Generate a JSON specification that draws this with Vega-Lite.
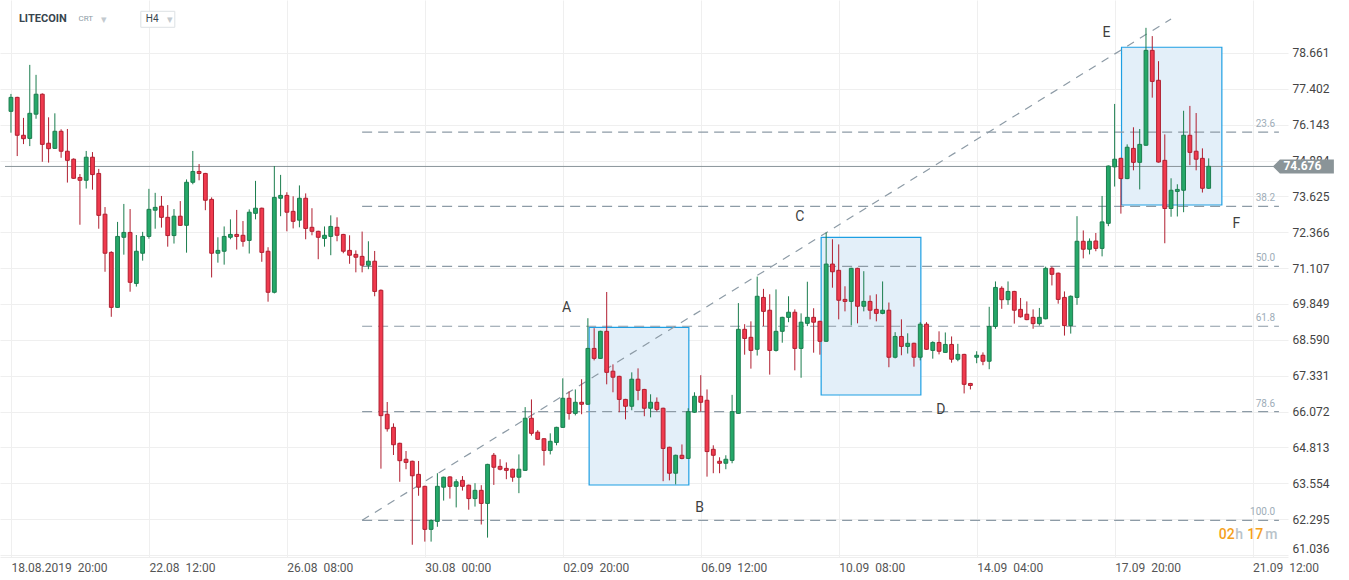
{
"$schema":"https://vega.github.io/schema/vega-lite/v6.json",
"width":1288,"height":557,
"autosize":{"type":"none"},
"padding":{"left":0,"top":0,"right":61,"bottom":23},
"background":"#ffffff",
"config":{"font":"Roboto","view":{"stroke":null},"axis":{"title":null}},
"datasets":{
"candles":[
{"i":0,"o":76.61,"h":77.22,"l":75.86,"c":77.10},{"i":1,"o":77.10,"h":77.12,"l":75.04,"c":75.77},{"i":2,"o":75.77,"h":76.38,"l":75.46,"c":75.65},{"i":3,"o":75.66,"h":78.24,"l":75.39,"c":76.54},{"i":4,"o":76.51,"h":77.89,"l":76.35,"c":77.21},{"i":5,"o":77.21,"h":77.24,"l":74.84,"c":75.45},{"i":6,"o":75.49,"h":76.40,"l":74.81,"c":75.30},{"i":7,"o":75.31,"h":76.54,"l":75.29,"c":75.91},{"i":8,"o":75.91,"h":75.98,"l":74.98,"c":75.21},{"i":9,"o":75.21,"h":75.99,"l":74.11,"c":74.89},
{"i":10,"o":74.93,"h":74.96,"l":74.24,"c":74.26},{"i":11,"o":74.29,"h":74.41,"l":72.63,"c":74.19},{"i":12,"o":74.19,"h":75.22,"l":73.90,"c":75.00},{"i":13,"o":75.00,"h":75.18,"l":73.86,"c":74.39},{"i":14,"o":74.43,"h":74.59,"l":72.49,"c":72.96},{"i":15,"o":73.00,"h":73.25,"l":70.98,"c":71.63},{"i":16,"o":71.66,"h":71.70,"l":69.40,"c":69.73},{"i":17,"o":69.73,"h":72.73,"l":69.71,"c":72.22},{"i":18,"o":72.19,"h":73.36,"l":71.58,"c":72.36},{"i":19,"o":72.36,"h":73.18,"l":70.28,"c":70.61},
{"i":20,"o":70.57,"h":72.27,"l":70.46,"c":71.70},{"i":21,"o":71.63,"h":72.38,"l":71.37,"c":72.22},{"i":22,"o":72.22,"h":73.89,"l":72.14,"c":73.17},{"i":23,"o":73.14,"h":73.75,"l":72.49,"c":73.24},{"i":24,"o":73.28,"h":73.64,"l":72.53,"c":72.89},{"i":25,"o":72.89,"h":73.32,"l":71.86,"c":72.25},{"i":26,"o":72.25,"h":73.18,"l":71.97,"c":72.93},{"i":27,"o":72.93,"h":73.46,"l":72.59,"c":72.61},{"i":28,"o":72.61,"h":74.22,"l":71.65,"c":74.12},{"i":29,"o":74.12,"h":75.22,"l":74.05,"c":74.50},
{"i":30,"o":74.50,"h":74.76,"l":74.19,"c":74.43},{"i":31,"o":74.43,"h":74.45,"l":73.14,"c":73.49},{"i":32,"o":73.52,"h":73.59,"l":70.78,"c":71.63},{"i":33,"o":71.63,"h":72.19,"l":71.30,"c":71.73},{"i":34,"o":71.70,"h":72.57,"l":71.23,"c":72.22},{"i":35,"o":72.19,"h":72.82,"l":72.12,"c":72.29},{"i":36,"o":72.29,"h":73.15,"l":71.76,"c":72.22},{"i":37,"o":72.26,"h":72.76,"l":71.86,"c":72.05},{"i":38,"o":72.08,"h":73.17,"l":71.62,"c":73.07},{"i":39,"o":73.03,"h":74.17,"l":72.82,"c":73.21},
{"i":40,"o":73.21,"h":73.23,"l":71.33,"c":71.66},{"i":41,"o":71.70,"h":71.84,"l":69.93,"c":70.26},{"i":42,"o":70.26,"h":74.69,"l":70.22,"c":73.59},{"i":43,"o":73.56,"h":74.38,"l":72.93,"c":73.66},{"i":44,"o":73.66,"h":73.77,"l":72.40,"c":73.07},{"i":45,"o":73.10,"h":73.63,"l":72.50,"c":72.75},{"i":46,"o":72.79,"h":74.01,"l":72.54,"c":73.56},{"i":47,"o":73.56,"h":73.73,"l":72.12,"c":72.50},{"i":48,"o":72.54,"h":73.21,"l":72.26,"c":72.40},{"i":49,"o":72.40,"h":72.42,"l":71.42,"c":72.19},
{"i":50,"o":72.15,"h":72.57,"l":71.86,"c":72.26},{"i":51,"o":72.22,"h":72.96,"l":71.56,"c":72.57},{"i":52,"o":72.54,"h":72.89,"l":72.05,"c":72.26},{"i":53,"o":72.29,"h":72.31,"l":71.63,"c":71.70},{"i":54,"o":71.73,"h":72.26,"l":71.26,"c":71.56},{"i":55,"o":71.59,"h":71.73,"l":70.96,"c":71.49},{"i":56,"o":71.52,"h":72.39,"l":70.96,"c":71.21},{"i":57,"o":71.21,"h":72.05,"l":71.07,"c":71.35},{"i":58,"o":71.35,"h":71.71,"l":70.12,"c":70.29},{"i":59,"o":70.33,"h":70.36,"l":64.07,"c":65.93},
{"i":60,"o":65.98,"h":66.41,"l":65.37,"c":65.47},{"i":61,"o":65.52,"h":65.66,"l":64.55,"c":64.91},{"i":62,"o":64.96,"h":64.98,"l":63.61,"c":64.35},{"i":63,"o":64.40,"h":64.69,"l":64.05,"c":64.29},{"i":64,"o":64.33,"h":64.35,"l":61.40,"c":63.82},{"i":65,"o":63.87,"h":64.34,"l":63.12,"c":63.42},{"i":66,"o":63.45,"h":63.47,"l":61.51,"c":61.94},{"i":67,"o":61.94,"h":62.29,"l":61.51,"c":62.25},{"i":68,"o":62.22,"h":63.91,"l":62.03,"c":63.45},{"i":69,"o":63.42,"h":63.79,"l":62.95,"c":63.77},
{"i":70,"o":63.78,"h":63.80,"l":63.02,"c":63.45},{"i":71,"o":63.45,"h":63.70,"l":62.71,"c":63.61},{"i":72,"o":63.66,"h":63.81,"l":63.30,"c":63.45},{"i":73,"o":63.49,"h":63.51,"l":62.63,"c":63.02},{"i":74,"o":63.02,"h":63.56,"l":62.74,"c":63.31},{"i":75,"o":63.31,"h":63.49,"l":62.11,"c":62.85},{"i":76,"o":62.85,"h":64.24,"l":61.65,"c":64.22},{"i":77,"o":64.54,"h":64.62,"l":63.50,"c":64.12},{"i":78,"o":64.15,"h":64.40,"l":64.01,"c":64.05},{"i":79,"o":64.08,"h":64.29,"l":63.70,"c":64.01},
{"i":80,"o":64.05,"h":64.07,"l":63.61,"c":63.77},{"i":81,"o":63.77,"h":64.57,"l":63.21,"c":64.05},{"i":82,"o":64.01,"h":66.23,"l":63.99,"c":65.84},{"i":83,"o":65.84,"h":66.50,"l":65.23,"c":65.31},{"i":84,"o":65.35,"h":65.42,"l":65.08,"c":65.10},{"i":85,"o":65.12,"h":65.14,"l":64.18,"c":64.71},{"i":86,"o":64.71,"h":65.31,"l":64.57,"c":65.03},{"i":87,"o":64.99,"h":65.54,"l":64.89,"c":65.52},{"i":88,"o":65.52,"h":67.24,"l":65.50,"c":66.54},{"i":89,"o":66.54,"h":66.78,"l":65.79,"c":66.01},
{"i":90,"o":66.01,"h":66.85,"l":65.94,"c":66.40},{"i":91,"o":66.40,"h":67.21,"l":65.98,"c":66.33},{"i":92,"o":66.33,"h":69.35,"l":66.31,"c":68.29},{"i":93,"o":68.29,"h":69.00,"l":67.87,"c":67.94},{"i":94,"o":67.94,"h":68.91,"l":67.92,"c":68.89},{"i":95,"o":68.89,"h":70.27,"l":67.03,"c":67.45},{"i":96,"o":67.49,"h":67.73,"l":66.75,"c":67.28},{"i":97,"o":67.31,"h":67.33,"l":66.05,"c":66.50},{"i":98,"o":66.50,"h":66.52,"l":65.80,"c":66.26},{"i":99,"o":66.26,"h":67.45,"l":66.12,"c":67.21},
{"i":100,"o":67.21,"h":67.59,"l":66.47,"c":66.82},{"i":101,"o":66.85,"h":66.87,"l":65.91,"c":66.19},{"i":102,"o":66.19,"h":66.68,"l":65.87,"c":66.40},{"i":103,"o":66.40,"h":66.57,"l":66.08,"c":66.15},{"i":104,"o":66.19,"h":66.21,"l":63.63,"c":64.78},{"i":105,"o":64.82,"h":64.84,"l":63.66,"c":63.91},{"i":106,"o":63.91,"h":64.56,"l":63.52,"c":64.54},{"i":107,"o":64.54,"h":64.92,"l":64.40,"c":64.43},{"i":108,"o":64.43,"h":66.19,"l":64.41,"c":66.07},{"i":109,"o":66.05,"h":66.75,"l":66.03,"c":66.61},
{"i":110,"o":66.61,"h":67.35,"l":66.08,"c":66.40},{"i":111,"o":66.47,"h":66.85,"l":63.79,"c":64.67},{"i":112,"o":64.75,"h":64.89,"l":63.91,"c":64.54},{"i":113,"o":64.33,"h":64.47,"l":63.91,"c":64.26},{"i":114,"o":64.26,"h":64.54,"l":64.05,"c":64.40},{"i":115,"o":64.36,"h":66.66,"l":64.26,"c":66.07},{"i":116,"o":66.01,"h":69.88,"l":65.99,"c":68.96},{"i":117,"o":68.96,"h":69.14,"l":68.07,"c":68.64},{"i":118,"o":68.68,"h":69.24,"l":67.58,"c":68.22},{"i":119,"o":68.26,"h":70.81,"l":68.04,"c":70.12},
{"i":120,"o":70.08,"h":70.38,"l":69.07,"c":69.59},{"i":121,"o":69.63,"h":70.19,"l":67.37,"c":68.22},{"i":122,"o":68.22,"h":70.36,"l":68.18,"c":68.89},{"i":123,"o":68.89,"h":69.40,"l":68.49,"c":69.38},{"i":124,"o":69.38,"h":70.12,"l":69.21,"c":69.56},{"i":125,"o":69.56,"h":69.66,"l":67.52,"c":68.29},{"i":126,"o":68.29,"h":69.52,"l":67.26,"c":69.21},{"i":127,"o":69.17,"h":70.63,"l":69.07,"c":69.38},{"i":128,"o":69.38,"h":69.70,"l":68.14,"c":69.21},{"i":129,"o":69.24,"h":69.26,"l":68.07,"c":68.54},
{"i":130,"o":68.54,"h":72.36,"l":68.52,"c":71.25},{"i":131,"o":71.25,"h":72.12,"l":70.42,"c":70.98},{"i":132,"o":71.03,"h":71.94,"l":69.31,"c":69.98},{"i":133,"o":70.01,"h":70.47,"l":69.59,"c":69.94},{"i":134,"o":69.94,"h":71.12,"l":69.10,"c":71.10},{"i":135,"o":71.10,"h":71.12,"l":69.17,"c":69.77},{"i":136,"o":69.77,"h":71.00,"l":69.59,"c":69.94},{"i":137,"o":69.94,"h":70.15,"l":69.31,"c":69.63},{"i":138,"o":69.66,"h":70.19,"l":69.24,"c":69.52},{"i":139,"o":69.52,"h":70.64,"l":69.49,"c":69.63},
{"i":140,"o":69.63,"h":69.90,"l":67.63,"c":67.98},{"i":141,"o":67.98,"h":68.86,"l":67.94,"c":68.71},{"i":142,"o":68.71,"h":69.31,"l":68.05,"c":68.36},{"i":143,"o":68.36,"h":68.82,"l":68.11,"c":68.47},{"i":144,"o":68.47,"h":68.49,"l":67.65,"c":67.98},{"i":145,"o":67.98,"h":69.21,"l":67.87,"c":69.14},{"i":146,"o":69.14,"h":69.21,"l":68.24,"c":68.26},{"i":147,"o":68.22,"h":68.54,"l":67.93,"c":68.50},{"i":148,"o":68.50,"h":68.89,"l":68.08,"c":68.19},{"i":149,"o":68.15,"h":68.85,"l":68.13,"c":68.43},
{"i":150,"o":68.43,"h":68.71,"l":67.79,"c":67.91},{"i":151,"o":67.91,"h":68.45,"l":67.84,"c":68.08},{"i":152,"o":68.08,"h":68.10,"l":66.71,"c":67.03},{"i":153,"o":67.06,"h":67.08,"l":66.85,"c":66.99},{"i":154,"o":67.98,"h":68.19,"l":67.77,"c":68.05},{"i":155,"o":68.05,"h":68.15,"l":67.70,"c":67.84},{"i":156,"o":67.84,"h":69.75,"l":67.56,"c":69.06},{"i":157,"o":69.06,"h":70.64,"l":68.98,"c":70.43},{"i":158,"o":70.40,"h":70.47,"l":69.68,"c":70.00},{"i":159,"o":70.00,"h":70.64,"l":69.82,"c":70.29},
{"i":160,"o":70.29,"h":70.31,"l":69.16,"c":69.63},{"i":161,"o":69.66,"h":70.06,"l":69.37,"c":69.40},{"i":162,"o":69.49,"h":69.94,"l":69.28,"c":69.30},{"i":163,"o":69.38,"h":69.66,"l":68.98,"c":69.16},{"i":164,"o":69.16,"h":69.71,"l":69.09,"c":69.38},{"i":165,"o":69.33,"h":71.16,"l":69.31,"c":71.10},{"i":166,"o":71.10,"h":71.16,"l":70.50,"c":70.89},{"i":167,"o":70.93,"h":70.95,"l":69.86,"c":70.01},{"i":168,"o":70.08,"h":70.29,"l":68.74,"c":69.09},{"i":169,"o":69.09,"h":70.15,"l":68.81,"c":70.12},
{"i":170,"o":70.08,"h":72.93,"l":69.82,"c":72.05},{"i":171,"o":72.05,"h":72.43,"l":71.45,"c":71.77},{"i":172,"o":71.77,"h":72.15,"l":71.59,"c":72.05},{"i":173,"o":72.06,"h":72.34,"l":71.70,"c":71.80},{"i":174,"o":71.80,"h":73.64,"l":71.52,"c":72.73},{"i":175,"o":72.68,"h":74.71,"l":72.58,"c":74.69},{"i":176,"o":74.66,"h":76.87,"l":73.97,"c":74.93},{"i":177,"o":74.96,"h":74.98,"l":73.02,"c":74.25},{"i":178,"o":74.25,"h":75.45,"l":74.23,"c":75.35},{"i":179,"o":75.31,"h":76.05,"l":74.54,"c":74.82},
{"i":180,"o":74.82,"h":75.99,"l":73.87,"c":75.45},{"i":181,"o":75.42,"h":79.54,"l":75.40,"c":78.75},{"i":182,"o":78.75,"h":79.25,"l":77.09,"c":77.66},{"i":183,"o":77.70,"h":78.37,"l":74.81,"c":74.83},{"i":184,"o":74.89,"h":75.80,"l":71.98,"c":73.20},{"i":185,"o":73.20,"h":74.26,"l":72.91,"c":73.84},{"i":186,"o":73.80,"h":74.05,"l":72.92,"c":73.87},{"i":187,"o":73.84,"h":76.63,"l":73.07,"c":75.77},{"i":188,"o":75.77,"h":76.80,"l":74.72,"c":75.17},{"i":189,"o":75.21,"h":76.55,"l":74.54,"c":74.93},
{"i":190,"o":74.96,"h":75.31,"l":73.76,"c":73.91},{"i":191,"o":73.91,"h":74.96,"l":73.89,"c":74.68}
],
"boxes":[{"i0":92.2,"i1":108.1,"v0":63.497,"v1":69.031},{"i0":129.2,"i1":145.1,"v0":66.655,"v1":72.19},{"i0":177.1,"i1":193.1,"v0":73.323,"v1":78.858}],
"fib":[{"lvl":"23.6","v":75.879,"i0":56,"i1":202.2},{"lvl":"38.2","v":73.276,"i0":56,"i1":202.2},{"lvl":"50.0","v":71.172,"i0":56,"i1":202.2},{"lvl":"61.8","v":69.068,"i0":56,"i1":202.2},{"lvl":"78.6","v":66.073,"i0":56,"i1":202.2},{"lvl":"100.0","v":62.258,"i0":56,"i1":202.2}],
"trend":[{"i0":56,"v0":62.258,"i1":185,"v1":79.85}],
"price":[{"v":74.676,"i0":-0.95,"i1":201.4,"tag":206.1,"t":"74.676"}],
"letters":[{"t":"A","i":88.6,"v":69.70},{"t":"B","i":109.8,"v":62.69},{"t":"C","i":125.8,"v":72.90},{"t":"D","i":148.3,"v":66.13},{"t":"E","i":174.7,"v":79.35},{"t":"F","i":195.4,"v":72.66}],
"title":[{"t":"LITECOIN","i":1.27,"v":79.84}],
"sub":[{"t":"CRT","i":10.76,"v":79.84}],
"carets":[{"t":"▾","i":14.4,"v":79.82},{"t":"▾","i":24.84,"v":79.82}],
"tf":[{"t":"H4","i":21.5,"v":79.84,"bx":23.42}],
"timerNum":[{"t":"02","i":192.6,"v":61.74},{"t":"17","i":197.15,"v":61.74}],
"timerUnit":[{"t":"h","i":195.25,"v":61.74},{"t":"m","i":200.0,"v":61.74}]
},
"layer":[
{"data":{"name":"boxes"},"mark":{"type":"rect","fill":"#e3eff9","stroke":"#1e9fe3","strokeWidth":1.2},
"encoding":{
"x":{"field":"i0","type":"quantitative","scale":{"domain":[-0.95,202.85],"nice":false,"zero":false},
"axis":{"values":[0,22,44,66,88,110,132,154,176,198],"tickCount":40,"labelExpr":"['18.08.2019\u00a0\u00a020:00','22.08\u00a0\u00a012:00','26.08\u00a0\u00a008:00','30.08\u00a0\u00a000:00','02.09\u00a0\u00a020:00','06.09\u00a0\u00a012:00','10.09\u00a0\u00a008:00','14.09\u00a0\u00a004:00','17.09\u00a0\u00a020:00','21.09\u00a0\u00a012:00'][round(datum.value/22)]","grid":true,"gridColor":"#efefef","gridWidth":1,"domain":true,"domainColor":"#eeeeee","ticks":false,"labelAlign":"left","labelPadding":5,"labelFontSize":12,"labelColor":"#555555","labelFlush":false,"labelOverlap":false,"title":null}},
"x2":{"field":"i1"},
"y":{"field":"v0","type":"quantitative","scale":{"domain":[60.97,80.517],"nice":false,"zero":false},
"axis":{"orient":"right","values":[61.036,62.295,63.554,64.813,66.072,67.331,68.590,69.849,71.107,72.366,73.625,74.884,76.143,77.402,78.661],"tickCount":40,"format":".3f","grid":true,"gridColor":"#efefef","gridWidth":1,"domain":false,"ticks":false,"labelPadding":4,"labelFontSize":12,"labelColor":"#444444","labelFlush":5,"labelOverlap":false,"title":null}},
"y2":{"field":"v1"}}},
{"data":{"name":"fib"},"mark":{"type":"rule","color":"#8d9ba6","strokeWidth":1.2,"strokeDash":[10,6]},
"encoding":{"x":{"field":"i0","type":"quantitative","scale":{"domain":[-0.95,202.85],"nice":false,"zero":false}},"x2":{"field":"i1"},
"y":{"field":"v","type":"quantitative","scale":{"domain":[60.97,80.517],"nice":false,"zero":false}}}},
{"data":{"name":"trend"},"mark":{"type":"rule","color":"#8d9ba6","strokeWidth":1.2,"strokeDash":[8,7]},
"encoding":{"x":{"field":"i0","type":"quantitative","scale":{"domain":[-0.95,202.85],"nice":false,"zero":false}},"x2":{"field":"i1"},
"y":{"field":"v0","type":"quantitative","scale":{"domain":[60.97,80.517],"nice":false,"zero":false}},"y2":{"field":"v1"}}},
{"data":{"name":"price"},"mark":{"type":"rule","color":"#8a9499","strokeWidth":1},
"encoding":{"x":{"field":"i0","type":"quantitative","scale":{"domain":[-0.95,202.85],"nice":false,"zero":false}},"x2":{"field":"i1"},
"y":{"field":"v","type":"quantitative","scale":{"domain":[60.97,80.517],"nice":false,"zero":false}}}},
{"data":{"name":"candles"},"mark":{"type":"rule","strokeWidth":1},
"encoding":{"x":{"field":"i","type":"quantitative","scale":{"domain":[-0.95,202.85],"nice":false,"zero":false}},
"y":{"field":"l","type":"quantitative","scale":{"domain":[60.97,80.517],"nice":false,"zero":false}},"y2":{"field":"h"},
"color":{"condition":{"test":"datum.c >= datum.o","value":"#1b7d4e"},"value":"#b01f30"}}},
{"data":{"name":"candles"},"mark":{"type":"bar","width":3.8,"strokeWidth":1},
"encoding":{"x":{"field":"i","type":"quantitative","scale":{"domain":[-0.95,202.85],"nice":false,"zero":false}},
"y":{"field":"o","type":"quantitative","scale":{"domain":[60.97,80.517],"nice":false,"zero":false}},"y2":{"field":"c"},
"fill":{"condition":{"test":"datum.c >= datum.o","value":"#25a869"},"value":"#f03a4e"},
"stroke":{"condition":{"test":"datum.c >= datum.o","value":"#1b7d4e"},"value":"#b01f30"}}},
{"data":{"name":"letters"},"mark":{"type":"text","fontSize":14,"color":"#3f3f3f","align":"center","baseline":"middle"},
"encoding":{"x":{"field":"i","type":"quantitative","scale":{"domain":[-0.95,202.85],"nice":false,"zero":false}},
"y":{"field":"v","type":"quantitative","scale":{"domain":[60.97,80.517],"nice":false,"zero":false}},"text":{"field":"t"}}},
{"data":{"name":"fib"},"mark":{"type":"text","fontSize":10,"color":"#9eadb8","align":"right","baseline":"middle","dy":-8},
"encoding":{"x":{"datum":201.6,"type":"quantitative","scale":{"domain":[-0.95,202.85],"nice":false,"zero":false}},
"y":{"field":"v","type":"quantitative","scale":{"domain":[60.97,80.517],"nice":false,"zero":false}},"text":{"field":"lvl"}}},
{"data":{"name":"price"},"mark":{"type":"point","shape":"M -1 0 L -0.77 -0.23 L 1 -0.23 L 1 0.23 L -0.77 0.23 Z","size":3721,"filled":true,"fill":"#8a9498","opacity":1,"strokeWidth":0},
"encoding":{"x":{"field":"tag","type":"quantitative","scale":{"domain":[-0.95,202.85],"nice":false,"zero":false}},
"y":{"field":"v","type":"quantitative","scale":{"domain":[60.97,80.517],"nice":false,"zero":false}}}},
{"data":{"name":"price"},"mark":{"type":"text","fontSize":12,"fontWeight":"bold","color":"#ffffff","align":"center","baseline":"middle","dx":-1},
"encoding":{"x":{"field":"tag","type":"quantitative","scale":{"domain":[-0.95,202.85],"nice":false,"zero":false}},
"y":{"field":"v","type":"quantitative","scale":{"domain":[60.97,80.517],"nice":false,"zero":false}},"text":{"field":"t"}}},
{"data":{"name":"tf"},"mark":{"type":"point","shape":"M -1 -0.47 L 1 -0.47 L 1 0.47 L -1 0.47 Z","size":1156,"filled":true,"fill":"#ffffff","stroke":"#dde1e4","strokeWidth":1,"opacity":1},
"encoding":{"x":{"field":"bx","type":"quantitative","scale":{"domain":[-0.95,202.85],"nice":false,"zero":false}},
"y":{"field":"v","type":"quantitative","scale":{"domain":[60.97,80.517],"nice":false,"zero":false}}}},
{"data":{"name":"tf"},"mark":{"type":"text","fontSize":10,"color":"#3a4750","align":"left","baseline":"middle"},
"encoding":{"x":{"field":"i","type":"quantitative","scale":{"domain":[-0.95,202.85],"nice":false,"zero":false}},
"y":{"field":"v","type":"quantitative","scale":{"domain":[60.97,80.517],"nice":false,"zero":false}},"text":{"field":"t"}}},
{"data":{"name":"title"},"mark":{"type":"text","fontSize":11,"fontWeight":"bold","color":"#37454e","align":"left","baseline":"middle"},
"encoding":{"x":{"field":"i","type":"quantitative","scale":{"domain":[-0.95,202.85],"nice":false,"zero":false}},
"y":{"field":"v","type":"quantitative","scale":{"domain":[60.97,80.517],"nice":false,"zero":false}},"text":{"field":"t"}}},
{"data":{"name":"sub"},"mark":{"type":"text","fontSize":8,"color":"#8d9ca6","align":"left","baseline":"middle"},
"encoding":{"x":{"field":"i","type":"quantitative","scale":{"domain":[-0.95,202.85],"nice":false,"zero":false}},
"y":{"field":"v","type":"quantitative","scale":{"domain":[60.97,80.517],"nice":false,"zero":false}},"text":{"field":"t"}}},
{"data":{"name":"carets"},"mark":{"type":"text","fontSize":11,"color":"#c3cacf","align":"left","baseline":"middle"},
"encoding":{"x":{"field":"i","type":"quantitative","scale":{"domain":[-0.95,202.85],"nice":false,"zero":false}},
"y":{"field":"v","type":"quantitative","scale":{"domain":[60.97,80.517],"nice":false,"zero":false}},"text":{"field":"t"}}},
{"data":{"name":"timerNum"},"mark":{"type":"text","fontSize":14,"fontWeight":500,"color":"#f5a11c","align":"left","baseline":"middle"},
"encoding":{"x":{"field":"i","type":"quantitative","scale":{"domain":[-0.95,202.85],"nice":false,"zero":false}},
"y":{"field":"v","type":"quantitative","scale":{"domain":[60.97,80.517],"nice":false,"zero":false}},"text":{"field":"t"}}},
{"data":{"name":"timerUnit"},"mark":{"type":"text","fontSize":14,"fontWeight":500,"color":"#b9c3c9","align":"left","baseline":"middle"},
"encoding":{"x":{"field":"i","type":"quantitative","scale":{"domain":[-0.95,202.85],"nice":false,"zero":false}},
"y":{"field":"v","type":"quantitative","scale":{"domain":[60.97,80.517],"nice":false,"zero":false}},"text":{"field":"t"}}}
]
}
